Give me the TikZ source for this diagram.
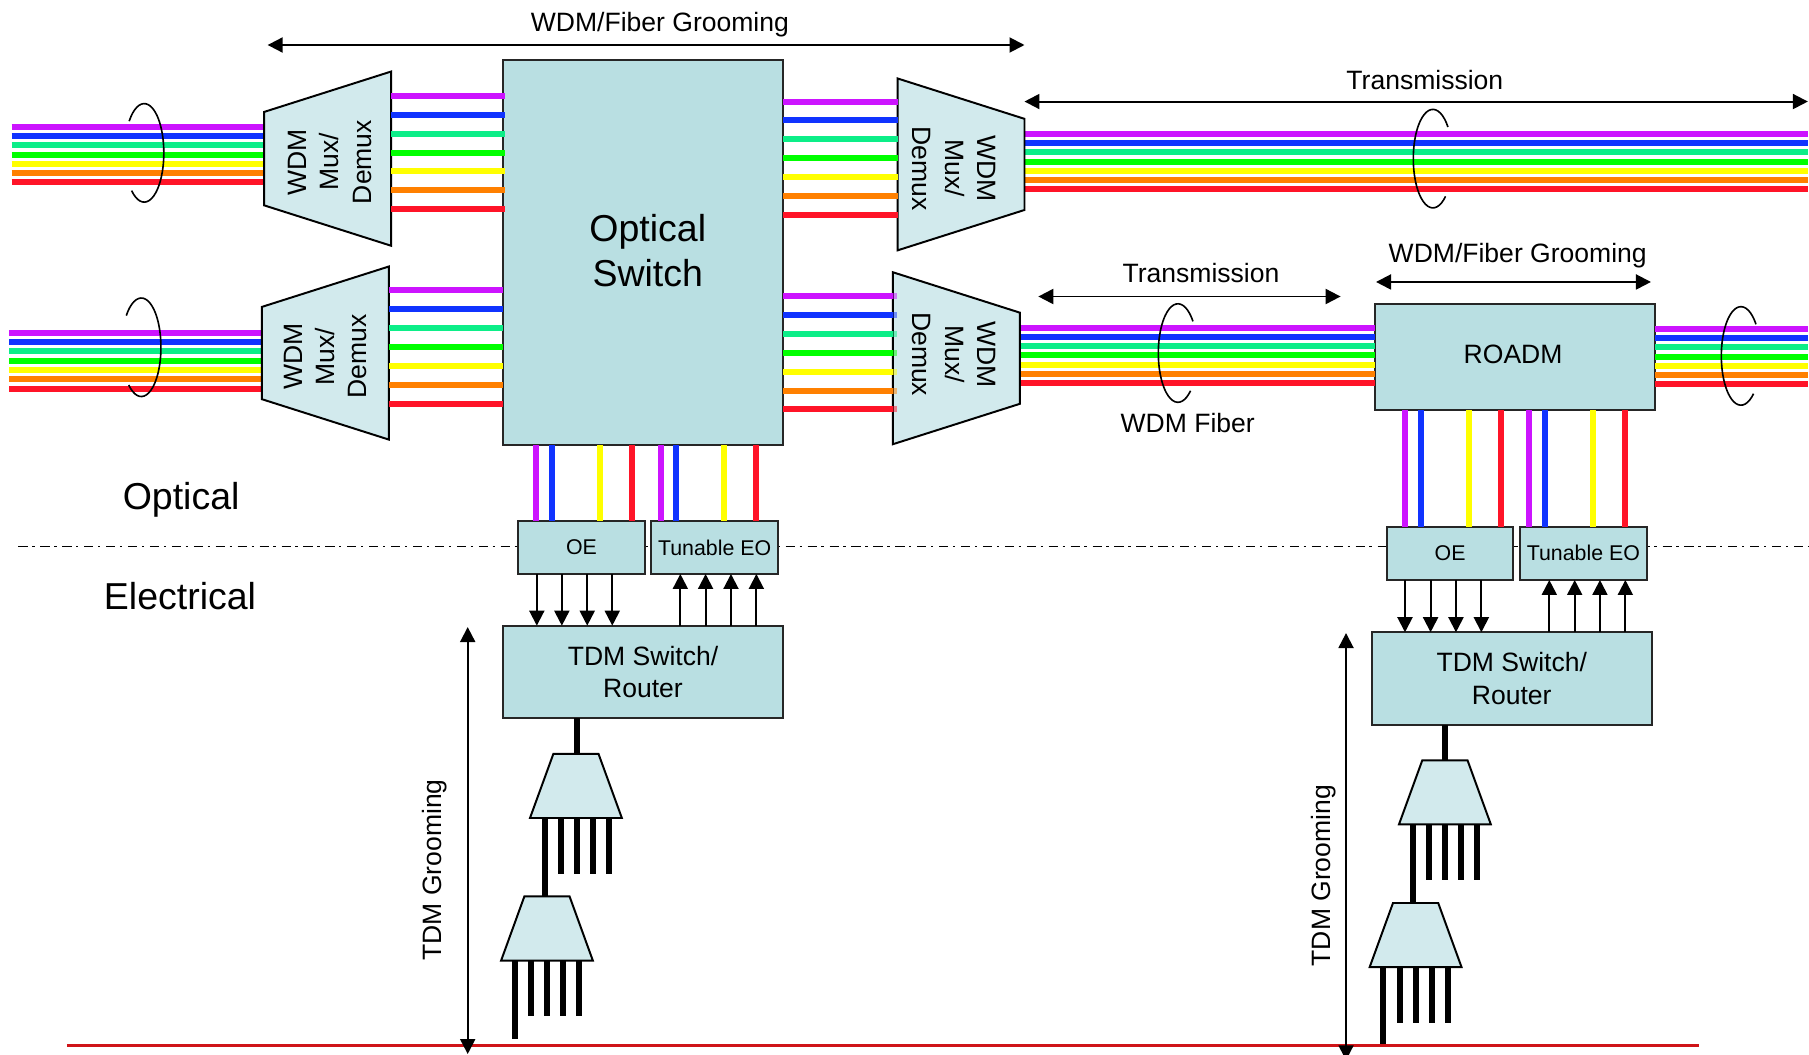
\documentclass[tikz,border=0pt]{standalone}
\usepackage{fontspec}
\setmainfont{Liberation Sans}
\usetikzlibrary{arrows.meta}
\definecolor{fp}{HTML}{CC14FF}
\definecolor{fb}{HTML}{1033FF}
\definecolor{ft}{HTML}{0CEE88}
\definecolor{fg}{HTML}{00FF00}
\definecolor{fy}{HTML}{FFFF00}
\definecolor{fo}{HTML}{FF8000}
\definecolor{fr}{HTML}{FF1428}
\definecolor{boxfill}{HTML}{B9DFE2}
\definecolor{trapfill}{HTML}{D2EAED}
\definecolor{redline}{HTML}{CF1418}
\tikzset{
  fiber/.style={line width=5.2pt},
  thickblack/.style={line width=5.2pt,black},
  sigbox/.style={draw=black!85,line width=1.9pt,fill=boxfill,rectangle,inner sep=0pt,outer sep=0pt,align=center},
  trapshape/.style={draw=black,line width=1.7pt,fill=trapfill,line join=miter},
  ghost/.style={rectangle,inner sep=0pt,outer sep=0pt},
  txt/.style={font=\fontsize{23}{28}\selectfont,align=center,inner sep=0pt},
  midfont/.style={font=\fontsize{23}{28}\selectfont},
  small/.style={font=\fontsize{18.5}{22}\selectfont},
  big/.style={font=\fontsize{32.5}{39}\selectfont,align=center,inner sep=0pt},
  sig/.style={line width=1.7pt,-{Triangle[length=13pt,width=13pt]}},
  dbl/.style={line width=1.7pt,{Triangle[length=13pt,width=13pt]}-{Triangle[length=13pt,width=13pt]}},
  loopc/.style={line width=1.4pt,black},
}
% box by corners
\newcommand\mybox[7]{%
  \pgfmathsetmacro\bw{#4-#2}\pgfmathsetmacro\bh{#5-#3}%
  \node[sigbox,#7,minimum width=\bw pt,minimum height=\bh pt] (#1) at ({(#2+#4)/2},{(#3+#5)/2}) {#6};}
% invisible frame of a shape
\newcommand\frm[5]{%
  \pgfmathsetmacro\bw{#4-#2}\pgfmathsetmacro\bh{#5-#3}%
  \node[ghost,minimum width=\bw pt,minimum height=\bh pt] (#1) at ({(#2+#4)/2},{(#3+#5)/2}) {};}
% seven fibres between two named x positions
\newcommand\fibers[4]{%
  \foreach \c [count=\i from 0] in {fp,fb,ft,fg,fy,fo,fr}{%
    \pgfmathsetmacro\yy{#3+\i*#4}%
    \draw[fiber,draw=\c] (#1 |- 0,\yy) -- (#2 |- 0,\yy);}}
% wrap-around ellipse, sign=1 opens left, sign=-1 opens right
\newcommand\wrap[3]{%
  \draw[loopc] plot[smooth,domain=-140:130,samples=40] ({#1+#3*17*cos(\x)},{#2+42.7*sin(\x)});}
% WDM trapezoid, wide side on the right; #6 #7 label shift (in the rotated frame)
\newcommand\trapR[7]{%
  \frm{#1}{#2}{#3}{#4}{#5}%
  \draw[trapshape] (#1.north east) -- (#1.south east) -- ([yshift=35pt]#1.south west) -- ([yshift=-35pt]#1.north west) -- cycle;
  \node[txt,rotate=90,xshift=#6pt,yshift=#7pt] (#1t) at (#1.center) {WDM\\Mux/\\Demux};}
% WDM trapezoid, wide side on the left
\newcommand\trapL[7]{%
  \frm{#1}{#2}{#3}{#4}{#5}%
  \draw[trapshape] (#1.north west) -- (#1.south west) -- ([yshift=35pt]#1.south east) -- ([yshift=-35pt]#1.north east) -- cycle;
  \node[txt,rotate=-90,xshift=#6pt,yshift=#7pt] (#1t) at (#1.center) {WDM\\Mux/\\Demux};}
% TDM mux: #1 name, #2 x of bottom left, #3 y top, #4 y bottom
\newcommand\muxt[4]{%
  \pgfmathsetmacro\xr{#2+79.6}%
  \frm{#1}{#2}{#3}{\xr}{#4}%
  \draw[trapshape] ([xshift=20.2pt]#1.north west) -- ([xshift=-20.2pt]#1.north east) -- (#1.south east) -- (#1.south west) -- cycle;}
\begin{document}
\begin{tikzpicture}[x=1pt,y=-1pt]
\useasboundingbox (0,0) rectangle (1568,914);
\clip (0,0) rectangle (1568,914);
\fill[white] (0,0) rectangle (1568,914);

% optical / electrical boundary
\coordinate (dashL) at (16,473.5);
\coordinate (dashR) at (1568,473.5);
\draw[line width=1.3pt,dash pattern=on 8pt off 4pt on 2pt off 5pt] (dashL) -- (dashR);

% free fibre ends
\coordinate (endTL) at (10,0);
\coordinate (endLL) at (8,0);
\coordinate (endR) at (1567,0);

% main boxes
\mybox{sw}{436}{52}{679}{386}{}{}
\node[big] (swt) at (561.5,217.5) {Optical\\Switch};
\mybox{road}{1192}{263.5}{1434.6}{355.4}{}{}
\node[txt] (roadt) at (1311.5,307) {ROADM};

% fibres on the trunk side
\fibers{endTL}{229,0}{110}{8}
\fibers{endLL}{227,0}{288.5}{8.05}
\fibers{888,0}{endR}{116}{8}
\fibers{884,0}{road.west}{284}{8}
\fibers{road.east}{endR}{285}{8}

% WDM multiplexers
\trapR{tl}{229}{62}{339}{213}{-3}{-2}
\trapR{ll}{227}{231}{337}{381}{-3}{0}
\trapL{tr}{778}{68}{888}{217}{3.5}{-6}
\trapL{lr}{774}{236}{884}{385}{-3.5}{-2}

% fibres to the switch
\fibers{tl.east}{438,0}{83}{16.4}
\fibers{ll.east}{sw.west}{251.5}{16.4}
\fibers{sw.east}{tr.west}{88}{16.4}
\fibers{sw.east}{lr.west}{256.5}{16.4}
\begin{scope}[opacity=.5]
\fibers{lr.west}{777.5,0}{256.5}{16.4}
\end{scope}

% wraps
\wrap{125}{132.5}{1}
\wrap{122.5}{301}{1}
\wrap{1242}{137.5}{-1}
\wrap{1021}{306}{-1}
\wrap{1509}{308.5}{-1}

% left stack
\mybox{oeA}{449}{451.8}{559}{497.5}{OE}{small}
\mybox{eoA}{564.6}{451.8}{674.3}{497.5}{Tunable EO}{small}
\mybox{tdmA}{436}{542.3}{678.7}{622.5}{TDM Switch/\\Router}{midfont}
\foreach \x/\c in {464.6/fp,478.5/fb,520/fy,548/fr}
  \draw[fiber,draw=\c] (\x,0 |- sw.south) -- (\x,0 |- oeA.north);
\foreach \x/\c in {572.5/fp,586/fb,627.7/fy,655.6/fr}
  \draw[fiber,draw=\c] (\x,0 |- sw.south) -- (\x,0 |- eoA.north);
\foreach \x in {465.3,487,509,530.7}
  \draw[sig] (\x,0 |- oeA.south) -- (\x,0 |- tdmA.north);
\foreach \x in {589.7,611.6,633.6,655.6}
  \draw[sig] (\x,0 |- tdmA.north) -- (\x,0 |- eoA.south);

% left TDM tree
\frm{mA}{459.4}{653.5}{539}{709}
\frm{mB}{434.3}{777}{513.9}{832.7}
\coordinate (mAend) at (0,757.6);
\coordinate (mBend) at (0,881);
\coordinate (mBlong) at (0,900.6);
\draw[thickblack] (500,0 |- tdmA.south) -- (500,0 |- mA.north);
\draw[thickblack] (472,0 |- mA.south) -- (472,0 |- mB.north);
\foreach \x in {486,500,513.7,527.6}
  \draw[thickblack] (\x,0 |- mA.south) -- (\x,0 |- mAend);
\draw[thickblack] (446,0 |- mB.south) -- (446,0 |- mBlong);
\foreach \x in {460.5,474.4,488.3,502}
  \draw[thickblack] (\x,0 |- mB.south) -- (\x,0 |- mBend);
\muxt{mA}{459.4}{653.5}{709}
\muxt{mB}{434.3}{777}{832.7}

% right stack
\mybox{oeB}{1202.2}{456.5}{1311.7}{502.7}{OE}{small}
\mybox{eoB}{1317.5}{456.5}{1427.3}{502.7}{Tunable EO}{small}
\mybox{tdmB}{1189}{548}{1431.7}{628.4}{TDM Switch/\\Router}{midfont}
\foreach \x/\c in {1217.8/fp,1231.7/fb,1273.3/fy,1301/fr}
  \draw[fiber,draw=\c] (\x,0 |- road.south) -- (\x,0 |- oeB.north);
\foreach \x/\c in {1325.3/fp,1339.2/fb,1380.8/fy,1408.8/fr}
  \draw[fiber,draw=\c] (\x,0 |- road.south) -- (\x,0 |- eoB.north);
\foreach \x in {1217.8,1240,1262,1284}
  \draw[sig] (\x,0 |- oeB.south) -- (\x,0 |- tdmB.north);
\foreach \x in {1342.9,1364.9,1386.8,1408.8}
  \draw[sig] (\x,0 |- tdmB.north) -- (\x,0 |- eoB.south);

% right TDM tree
\frm{mC}{1212.6}{659}{1292.2}{714.5}
\frm{mD}{1187.2}{782.7}{1266.8}{838.2}
\coordinate (mCend) at (0,762.8);
\coordinate (mDend) at (0,886.4);
\coordinate (redY) at (0,906);
\draw[thickblack] (1252.8,0 |- tdmB.south) -- (1252.8,0 |- mC.north);
\draw[thickblack] (1225,0 |- mC.south) -- (1225,0 |- mD.north);
\foreach \x in {1238.9,1252.8,1266.7,1280.5}
  \draw[thickblack] (\x,0 |- mC.south) -- (\x,0 |- mCend);
\draw[thickblack] (1199,0 |- mD.south) -- (1199,0 |- redY);
\foreach \x in {1213.5,1227.4,1241.2,1255}
  \draw[thickblack] (\x,0 |- mD.south) -- (\x,0 |- mDend);
\muxt{mC}{1212.6}{659}{714.5}
\muxt{mD}{1187.2}{782.7}{838.2}

% baseline
\coordinate (redL) at (58,906);
\coordinate (redR) at (1473,906);
\draw[redline,line width=2.6pt] (redL) -- (redR);

% extent arrows
\coordinate (a1) at (232,39); \coordinate (a2) at (888,39);
\coordinate (a3) at (888,88); \coordinate (a4) at (1567,88);
\coordinate (a5) at (900,257); \coordinate (a6) at (1162,257);
\coordinate (a7) at (1192.7,244.4); \coordinate (a8) at (1431,244.4);
\coordinate (a9) at (405.4,543.5); \coordinate (a10) at (405.4,913.6);
\coordinate (a11) at (1166.7,548.7); \coordinate (a12) at (1166.7,919);
\draw[dbl] (a1) -- (a2);
\draw[dbl] (a3) -- (a4);
\draw[dbl] (a5) -- (a6);
\draw[dbl] (a7) -- (a8);
\draw[dbl] (a9) -- (a10);
\draw[dbl] (a11) -- (a12);

% labels
\node[txt] (l1) at (572,21) {WDM/Fiber Grooming};
\node[txt] (l2) at (1235,69) {Transmission};
\node[txt] (l3) at (1041,237) {Transmission};
\node[txt] (l4) at (1315.5,222) {WDM/Fiber Grooming};
\node[txt] (l5) at (1029.5,367) {WDM Fiber};
\node[txt,rotate=90] (l6) at (377,754) {TDM Grooming};
\node[txt,rotate=90] (l7) at (1147,759) {TDM Grooming};
\node[big] (l8) at (157,433) {Optical};
\node[big] (l9) at (156,516.5) {Electrical};
\end{tikzpicture}
\end{document}
